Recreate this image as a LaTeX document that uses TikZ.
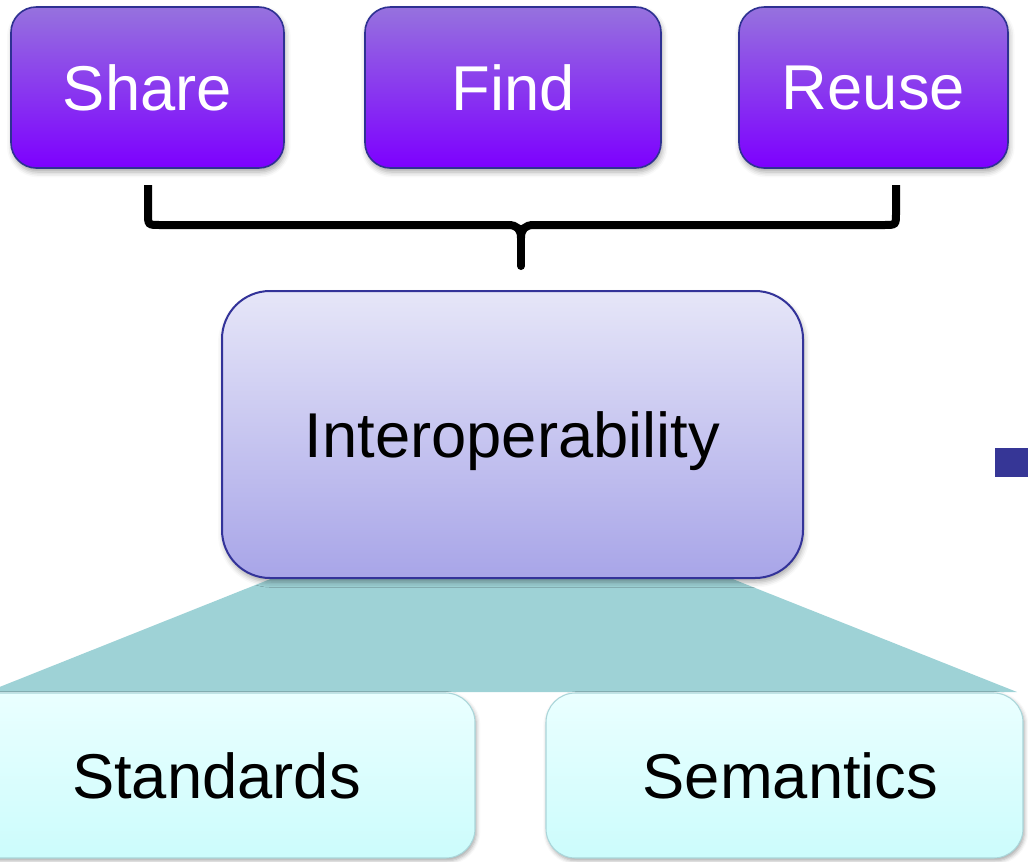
\documentclass[tikz,border=0pt]{standalone}
\usepackage{fontspec}
\setmainfont{Liberation Sans}
\usetikzlibrary{shadows.blur}

\definecolor{violetTop}{RGB}{150,114,222}
\definecolor{violetMid}{RGB}{144,96,226}
\definecolor{violetBot}{RGB}{125,0,255}
\definecolor{violetLine}{RGB}{46,49,146}
\definecolor{lavTop}{RGB}{230,230,248}
\definecolor{lavBot}{RGB}{168,165,232}
\definecolor{navyLine}{RGB}{51,51,153}
\definecolor{fanTeal}{RGB}{158,210,214}
\definecolor{aquaTop}{RGB}{234,255,255}
\definecolor{aquaBot}{RGB}{204,252,252}
\definecolor{aquaLine}{RGB}{170,214,218}
\definecolor{navyMark}{RGB}{54,54,150}

\begin{document}
\begin{tikzpicture}[x=0.75pt,y=-0.75pt,
  bigtext/.style={font=\fontsize{47.5}{57}\selectfont, text depth=0pt, inner sep=0pt},
  actionbox/.style={bigtext, text=white, draw=violetLine, line width=1.2pt,
    rounded corners=19pt, top color=violetTop, middle color=violetMid, bottom color=violetBot,
    blur shadow={shadow xshift=1pt, shadow yshift=-3pt, shadow blur radius=4pt, shadow opacity=35}},
  corebox/.style={bigtext, text=black, draw=navyLine, line width=1.5pt,
    rounded corners=36pt, top color=lavTop, bottom color=lavBot,
    blur shadow={shadow xshift=1pt, shadow yshift=-3pt, shadow blur radius=4pt, shadow opacity=35}},
  basebox/.style={bigtext, text=black, draw=aquaLine, line width=0.8pt,
    rounded corners=22pt, top color=aquaTop, bottom color=aquaBot,
    blur shadow={shadow xshift=1pt, shadow yshift=-2pt, shadow blur radius=3pt, shadow opacity=35}},
  bracestyle/.style={line width=6pt, draw=black},
]
\useasboundingbox (0,0) rectangle (1028,861);
\clip (0,0) rectangle (1028,861);

% fan joining the core box to its two foundations
\fill[fanTeal] (293,570) -- (710,570) -- (1017,692) -- (-13,692) -- cycle;

% three goals
\node[actionbox, minimum width={273*0.75pt}, minimum height={161*0.75pt}] (share) at (147.5,87.5) {Share};
\node[actionbox, minimum width={296*0.75pt}, minimum height={161*0.75pt}] (find) at (513,87.5) {Find};
\node[actionbox, minimum width={269*0.75pt}, minimum height={161*0.75pt}] (reuse) at (873.5,87.5) {Reuse};

% core concept
\node[corebox, minimum width={581*0.75pt}, minimum height={287*0.75pt}] (interop) at (512.5,434.5) {Interoperability};

% foundations
\node[basebox, minimum width={517*0.75pt}, minimum height={165*0.75pt}] (standards) at (216.5,775.5) {Standards};
\node[basebox, minimum width={477*0.75pt}, minimum height={165*0.75pt}] (semantics) at (784.5,775.5) {\hspace*{9pt}Semantics};

% brace gathering the goals onto the core box
\coordinate (bl) at (148,185);
\coordinate (br) at (896,185);
\coordinate (tip) at (521,266);
\draw[bracestyle] (bl) -- (148,213) .. controls (148,225) .. (160,225) -- (508,225)
  .. controls (517,225) and (521,229) .. (521,238);
\draw[bracestyle] (br) -- (896,213) .. controls (896,225) .. (884,225) -- (534,225)
  .. controls (525,225) and (521,229) .. (521,238);
\draw[bracestyle, line cap=round] (521,236) -- (tip);

% marker at the right edge
\fill[navyMark] (995,448) rectangle (1040,477);
\end{tikzpicture}
\end{document}
